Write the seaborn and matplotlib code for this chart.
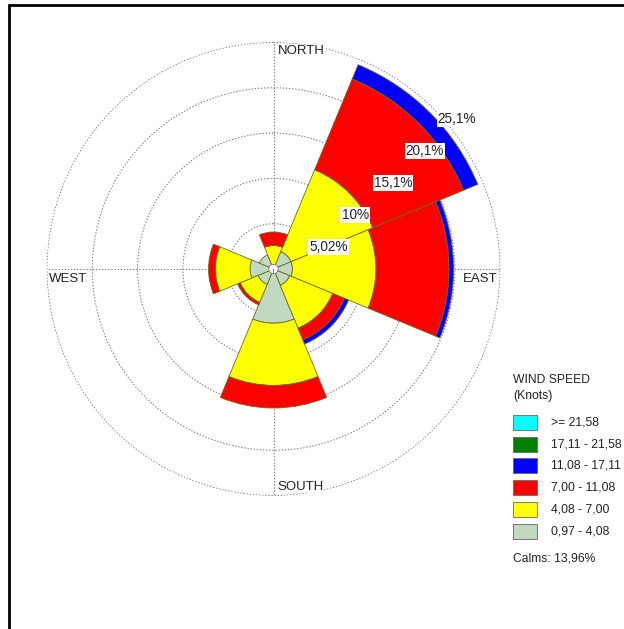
# Rosa de vientos con sectores de 45 grados
import numpy as np
import matplotlib
matplotlib.use('Agg')
import matplotlib.pyplot as plt
from matplotlib.patches import Rectangle
from matplotlib.lines import Line2D
import seaborn as sns

###########################################################
# DATOS (frecuencias en % por rango de velocidad)
###########################################################

direcciones = ['N', 'NE', 'E', 'SE', 'S', 'SW', 'W', 'NW']
angulos = [0, 45, 90, 135, 180, 225, 270, 315]

vel_097_408 = [0.3, 2.1, 2.1, 1.95, 6.0, 1.85, 2.6, 1.7]
vel_408_700 = [2.3, 9.8, 9.25, 5.15, 6.9, 2.15, 3.85, 0.0]
vel_700_1108 = [1.5, 10.9, 8.1, 1.4, 2.5, 0.3, 0.75, 0.0]
vel_1108_1711 = [0.0, 1.7, 0.5, 0.5, 0.0, 0.0, 0.0, 0.0]
vel_1711_2158 = [0.0, 0.0, 0.0, 0.0, 0.0, 0.0, 0.0, 0.0]
vel_mayor_2158 = [0.0, 0.0, 0.0, 0.0, 0.0, 0.0, 0.0, 0.0]

rangos = ['>= 21,58', '17,11 - 21,58', '11,08 - 17,11',
          '7,00 - 11,08', '4,08 - 7,00', '0,97 - 4,08']
colores = ['#00ffff', '#008000', '#0000ff', '#ff0000', '#ffff00', '#c0d9c0']

anillos = [5.02, 10.04, 15.06, 20.08, 25.1]
etiquetas_anillos = ['5,02%', '10%', '15,1%', '20,1%', '25,1%']
cardinales = ['NORTH', 'EAST', 'SOUTH', 'WEST']
calmas = 'Calms: 13,96%'

###########################################################
# FIGURA
###########################################################

sns.set_style('white')
plt.rcParams['font.family'] = ['Liberation Sans', 'DejaVu Sans']

W, H = 624, 629
fig = plt.figure(figsize=(W / 100, H / 100), dpi=100)

cx, cy, R = 273.5, 269, 227
ax = fig.add_axes([(cx - R) / W, (H - cy - R) / H, 2 * R / W, 2 * R / H],
                  projection='polar')
ax.set_theta_zero_location('N')
ax.set_theta_direction(-1)

# barras apiladas, de adentro hacia afuera
capas = [vel_097_408, vel_408_700, vel_700_1108,
         vel_1108_1711, vel_1711_2158, vel_mayor_2158]
colores_capas = colores[::-1]
theta = np.radians(angulos)
ancho = np.radians(45)
base = np.zeros(len(direcciones))
for valores, col in zip(capas, colores_capas):
    valores = np.array(valores)
    mask = valores > 0
    ax.bar(theta[mask], valores[mask], width=ancho, bottom=base[mask],
           color=col, edgecolor='#6b6b1e', linewidth=0.6, zorder=3)
    base = base + valores

# circulo central de calmas
ax.bar(0, 0.52, width=2 * np.pi, bottom=0, color='white',
       edgecolor='#777777', linewidth=0.6, zorder=4)

# grilla
ax.set_ylim(0, 25.15)
ax.set_rgrids(anillos, labels=[''] * len(anillos))
ax.set_thetagrids([0, 90, 180, 270], labels=[''] * 4)
ax.grid(True, color='#7a7a8a', linestyle=(0, (1.2, 1.6)), linewidth=0.8)
ax.set_axisbelow(True)
ax.spines['polar'].set_visible(False)
ax.tick_params(pad=0)

# etiquetas de anillos sobre el rayo de 45 grados
for r, txt in zip(anillos, etiquetas_anillos):
    ax.annotate(txt, xy=(np.radians(45), r), xytext=(4, -3),
                textcoords='offset pixels', ha='left', va='top',
                fontsize=9.8, color='#222222', zorder=6,
                bbox=dict(boxstyle='square,pad=0.08', fc='white', ec='none'))

# puntos cardinales
r_out = 25.1
ax.annotate(cardinales[0], xy=(0, r_out), xytext=(4, -3), textcoords='offset pixels',
            ha='left', va='top', fontsize=9.5, color='#222222', zorder=6,
            bbox=dict(boxstyle='square,pad=0.05', fc='white', ec='none'))
ax.annotate(cardinales[1], xy=(np.pi / 2, r_out), xytext=(-3, -4), textcoords='offset pixels',
            ha='right', va='top', fontsize=9.5, color='#222222', zorder=6,
            bbox=dict(boxstyle='square,pad=0.05', fc='white', ec='none'))
ax.annotate(cardinales[2], xy=(np.pi, r_out), xytext=(4, 6), textcoords='offset pixels',
            ha='left', va='baseline', fontsize=9.5, color='#222222', zorder=6,
            bbox=dict(boxstyle='square,pad=0.05', fc='white', ec='none'))
ax.annotate(cardinales[3], xy=(3 * np.pi / 2, r_out), xytext=(2, -4), textcoords='offset pixels',
            ha='left', va='top', fontsize=9.5, color='#222222', zorder=6,
            bbox=dict(boxstyle='square,pad=0.05', fc='white', ec='none'))

###########################################################
# LEYENDA
###########################################################

def fx(x):
    return x / W


def fy(y):
    return 1 - y / H


fig.text(fx(513), fy(383), 'WIND SPEED', fontsize=8.7, color='#222222', va='baseline')
fig.text(fx(513), fy(399), '(Knots)', fontsize=8.7, color='#222222', va='baseline')
for i, (lab, col) in enumerate(zip(rangos, colores)):
    top = 415 + i * 21.7
    fig.add_artist(Rectangle((fx(513), fy(top + 15)), 24 / W, 15 / H,
                             transform=fig.transFigure, facecolor=col,
                             edgecolor='#666666', linewidth=0.6))
    fig.text(fx(551), fy(top + 7.5), lab, fontsize=8.7, color='#222222', va='center')
fig.text(fx(513), fy(561.5), calmas, fontsize=8.7, color='#222222', va='baseline')

# marco
fig.add_artist(Line2D([fx(9), fx(9)], [0, fy(5)], transform=fig.transFigure,
                      color='black', linewidth=2))
fig.add_artist(Line2D([fx(9), 1], [fy(5), fy(5)], transform=fig.transFigure,
                      color='black', linewidth=2))

fig.savefig('out.png', dpi=100, facecolor='white')
